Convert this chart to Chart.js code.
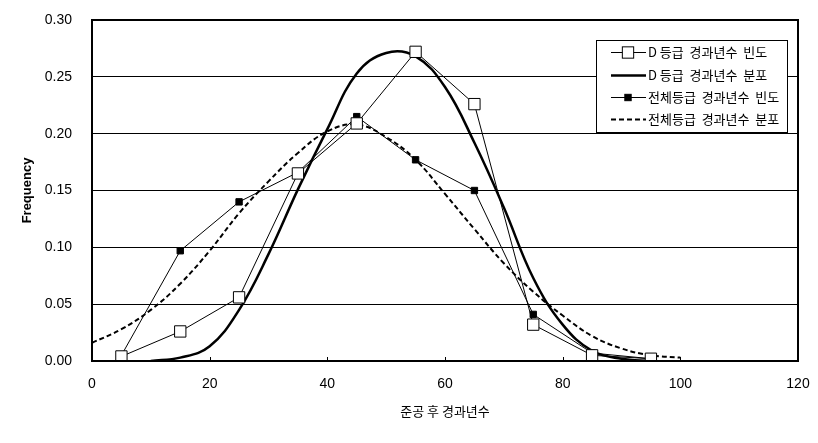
<!DOCTYPE html>
<html>
<head>
<meta charset="utf-8">
<script src="https://cdn.jsdelivr.net/npm/chart.js@4"></script>
<style>
  html, body { margin: 0; padding: 0; background: #fff; }
  #wrap { width: 818px; height: 443px; }
</style>
</head>
<body>
<div id="wrap"><canvas id="freqChart" width="818" height="443"></canvas></div>
<script>
// 경과년수 구간 (빈도 점)
const ageBins = [5, 15, 25, 35, 45, 55, 65, 75, 85, 95];
const dFreq = [0.004, 0.026, 0.056, 0.165, 0.209, 0.272, 0.226, 0.032, 0.005, 0.002];
const allFreq = [0.005, 0.097, 0.140, 0.166, 0.215, 0.177, 0.150, 0.041, 0.007, 0.002];

// 분포 곡선
const dDistX = [10, 15, 20, 25, 30, 35, 40, 45, 50, 55, 60, 65, 70, 75, 80, 85, 90, 95];
const dDist = [0.000, 0.003, 0.013, 0.045, 0.094, 0.151, 0.204, 0.253, 0.271, 0.268, 0.241, 0.192, 0.135, 0.073, 0.032, 0.009, 0.002, 0.000];
const allDistX = [0, 5, 10, 15, 20, 25, 30, 35, 40, 45, 50, 55, 60, 65, 70, 75, 80, 85, 90, 95, 100];
const allDist = [0.016, 0.028, 0.045, 0.068, 0.097, 0.130, 0.158, 0.183, 0.202, 0.208, 0.197, 0.177, 0.147, 0.116, 0.086, 0.061, 0.040, 0.022, 0.011, 0.005, 0.003];

const xTicks = [0, 20, 40, 60, 80, 100, 120];
const yTicks = [0, 0.05, 0.10, 0.15, 0.20, 0.25, 0.30];

const labels = ["D 등급  경과년수  빈도", "D 등급  경과년수  분포", "전체등급  경과년수  빈도", "전체등급  경과년수  분포"];

function pts(xs, ys) {
  return xs.map((x, i) => ({ x: x, y: ys[i] }));
}

// frame, inner ticks and boxed legend
const framePlugin = {
  id: "frame",
  afterDatasetsDraw(chart) {
    const ctx = chart.ctx;
    const a = chart.chartArea;
    const xs = chart.scales.x;
    ctx.save();
    ctx.strokeStyle = "#000";
    ctx.lineWidth = 1;
    xTicks.forEach(v => {
      const px = Math.round(xs.getPixelForValue(v)) + 0.5;
      ctx.beginPath();
      ctx.moveTo(px, a.bottom);
      ctx.lineTo(px, a.bottom - 4);
      ctx.stroke();
    });
    ctx.lineWidth = 2;
    ctx.strokeRect(a.left, a.top, a.right - a.left, a.bottom - a.top);

    // legend box
    const bx = 596, by = 40, bw = 191, bh = 92;
    ctx.fillStyle = "#fff";
    ctx.fillRect(bx, by, bw, bh);
    ctx.lineWidth = 1;
    ctx.strokeRect(bx + 0.5, by + 0.5, bw, bh);
    const rows = [52, 75, 97, 119];
    chart.data.datasets.forEach((ds, i) => {
      const y = rows[i] + 0.5;
      ctx.save();
      ctx.strokeStyle = "#000";
      ctx.lineWidth = ds.borderWidth;
      ctx.setLineDash(ds.borderDash || []);
      ctx.beginPath();
      ctx.moveTo(611, y);
      ctx.lineTo(646, y);
      ctx.stroke();
      ctx.restore();
      if (ds.pointRadius > 0) {
        const s = ds.pointRadius * Math.SQRT1_2;
        ctx.fillStyle = ds.pointBackgroundColor;
        ctx.fillRect(628 - s, y - s, 2 * s, 2 * s);
        ctx.lineWidth = 1;
        ctx.strokeStyle = "#000";
        ctx.strokeRect(628 - s, y - s, 2 * s, 2 * s);
      }
      ctx.fillStyle = "#000";
      ctx.font = "13px 'Noto Sans CJK KR'";
      ctx.textBaseline = "middle";
      ctx.textAlign = "left";
      ctx.fillText(ds.label, 648, y);
    });
    ctx.restore();
  }
};

const canvas = document.getElementById("freqChart");
new Chart(canvas, {
  type: "line",
  data: {
    datasets: [
      {
        label: labels[0],
        data: pts(ageBins, dFreq),
        borderColor: "#000",
        borderWidth: 1,
        pointStyle: "rect",
        pointRadius: 8,
        pointBorderWidth: 1,
        pointBorderColor: "#000",
        pointBackgroundColor: "#fff",
        tension: 0
      },
      {
        label: labels[1],
        data: pts(dDistX, dDist),
        borderColor: "#000",
        borderWidth: 2.5,
        pointRadius: 0,
        tension: 0.4
      },
      {
        label: labels[2],
        data: pts(ageBins, allFreq),
        borderColor: "#000",
        borderWidth: 1,
        pointStyle: "rect",
        pointRadius: 4.5,
        pointBorderWidth: 1,
        pointBorderColor: "#000",
        pointBackgroundColor: "#000",
        tension: 0
      },
      {
        label: labels[3],
        data: pts(allDistX, allDist),
        borderColor: "#000",
        borderWidth: 2,
        borderDash: [5, 3],
        pointRadius: 0,
        tension: 0.4
      }
    ]
  },
  options: {
    responsive: false,
    animation: false,
    layout: { padding: { left: 0, right: 20, top: 20, bottom: 0 } },
    plugins: {
      legend: { display: false },
      tooltip: { enabled: false }
    },
    scales: {
      x: {
        type: "linear",
        min: 0,
        max: 120,
        afterBuildTicks: s => { s.ticks = xTicks.map(v => ({ value: v })); },
        afterFit: s => { s.height = 82; },
        grid: { display: false },
        border: { display: false },
        ticks: {
          padding: 7,
          color: "#000",
          maxRotation: 0,
          font: { family: "'Liberation Sans', Arial", size: 14 }
        },
        title: {
          display: true,
          text: "준공 후 경과년수",
          color: "#000",
          padding: { top: 0, bottom: 24 },
          font: { family: "'Noto Sans CJK KR'", size: 13 }
        }
      },
      y: {
        min: 0,
        max: 0.30,
        afterBuildTicks: s => { s.ticks = yTicks.map(v => ({ value: v })); },
        afterFit: s => { s.width = 92; s.paddingTop = 0; s.paddingBottom = 0; },
        grid: { color: "#000", lineWidth: 1, drawTicks: false },
        border: { display: false },
        ticks: {
          padding: 20,
          color: "#000",
          font: { family: "'Liberation Sans', Arial", size: 14 },
          callback: v => v.toFixed(2)
        },
        title: {
          display: true,
          text: "Frequency",
          color: "#000",
          padding: { top: 20, bottom: 0 },
          font: { family: "'Liberation Sans', Arial", size: 13, weight: "bold" }
        }
      }
    }
  },
  plugins: [framePlugin]
});
</script>
</body>
</html>
